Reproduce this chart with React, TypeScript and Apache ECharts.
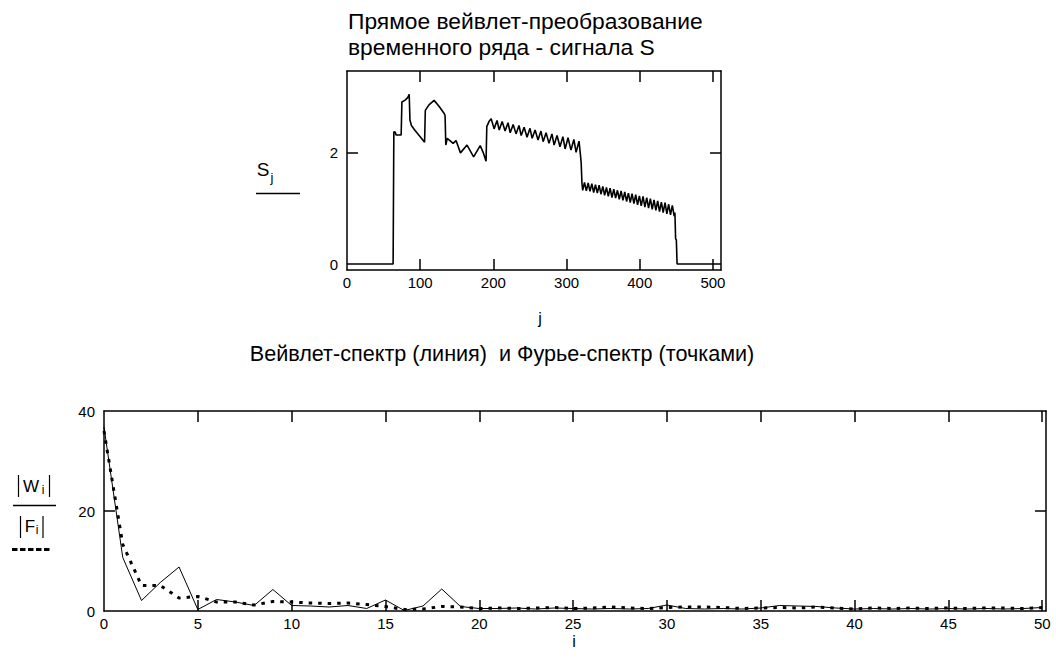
import React, { useEffect, useRef } from "react";
import * as echarts from "echarts";

// ---------- Top chart: signal S_j (vertex points) ----------
const signalRise: [number, number][] = [
  [0, 0], [63, 0], [64, 2.37], [66, 2.36], [67, 2.31], [74, 2.31], [75, 2.9], [79, 2.93],
  [83, 2.98], [85, 3.04], [86, 2.58], [88, 2.48], [93, 2.39], [100, 2.28], [106, 2.18],
  [107, 2.75], [112, 2.85], [119, 2.93], [126, 2.82], [133, 2.69], [134, 2.66], [135, 2.13],
  [137, 2.25], [145, 2.16], [149, 2.21], [155, 1.99], [164, 2.13], [173, 1.92], [182, 2.12],
  [186, 2.0], [190, 1.84], [191, 2.46], [194, 2.55],
];
const signalWaveA: [number, number][] = [
  [197, 2.6], [201, 2.42], [205, 2.57], [208, 2.4], [212, 2.55], [216, 2.38], [220, 2.53],
  [223, 2.35], [227, 2.5], [231, 2.33], [235, 2.48], [238, 2.3], [242, 2.45], [246, 2.27],
  [250, 2.43], [253, 2.25], [257, 2.4], [261, 2.22], [265, 2.38], [268, 2.19], [272, 2.35],
  [276, 2.16], [280, 2.33], [283, 2.13], [287, 2.3], [291, 2.1], [295, 2.28], [298, 2.06],
  [302, 2.26], [306, 2.04], [310, 2.23], [313, 2.0], [317, 2.2], [319, 1.95],
];
const signalWaveB: [number, number][] = [
  [320, 1.8], [321, 1.45], [322, 1.32], [324.5, 1.46], [327, 1.31], [329.5, 1.45], [332, 1.3],
  [334.5, 1.44], [337, 1.28], [339.5, 1.42], [342, 1.27], [344.5, 1.41], [347, 1.25],
  [349.5, 1.39], [352, 1.23], [354.5, 1.37], [357, 1.21], [359.5, 1.36], [362, 1.19],
  [364.5, 1.34], [367, 1.18], [369.5, 1.32], [372, 1.16], [374.5, 1.31], [377, 1.14],
  [379.5, 1.29], [382, 1.12], [384.5, 1.27], [387, 1.1], [389.5, 1.26], [392, 1.08],
  [394.5, 1.24], [397, 1.06], [399.5, 1.22], [402, 1.04], [404.5, 1.21], [407, 1.02],
  [409.5, 1.19], [412, 1.0], [414.5, 1.17], [417, 0.98], [419.5, 1.15], [422, 0.96],
  [424.5, 1.13], [427, 0.94], [429.5, 1.11], [432, 0.92], [434.5, 1.1], [437, 0.9],
  [439.5, 1.07], [442, 0.88], [444.5, 1.05], [447, 0.86],
];
const signalTail: [number, number][] = [
  [448, 0.92], [449, 0.45], [450, 0.43], [451, 0], [511, 0],
];

const topXTicks = [100, 200, 300, 400, 500];
const topXLabels = [0, 100, 200, 300, 400, 500];
const topYTicks = [2];
const topYLabels = [0, 2];

// ---------- Bottom chart: wavelet spectrum |W_i| and Fourier spectrum |F_i| ----------
const waveletW = [
  36.8, 10.7, 2.1, 5.7, 8.8, 0.3, 2.3, 1.8, 1.1, 4.3, 1.1, 1.0, 0.8, 1.1, 0.5, 2.2, 0.1, 1.0,
  4.4, 0.9, 0.5, 0.5, 0.6, 0.4, 0.6, 0.5, 0.4, 0.5, 0.4, 0.5, 1.2, 0.5, 0.4, 0.5, 0.4, 0.6,
  1.1, 1.0, 0.9, 0.6, 0.4, 0.5, 0.4, 0.5, 0.4, 0.5, 0.4, 0.5, 0.4, 0.5, 0.7,
];
const fourierF = [
  36, 13.3, 5.1, 5.1, 2.6, 2.9, 1.8, 1.8, 1.2, 1.9, 1.8, 1.6, 1.5, 1.6, 1.3, 0.9, 0.3, 0.4,
  0.9, 0.8, 0.5, 0.6, 0.5, 0.6, 0.7, 0.5, 0.6, 0.8, 0.6, 0.5, 0.7, 0.8, 0.8, 0.7, 0.5, 0.6,
  0.7, 0.6, 0.8, 0.6, 0.4, 0.6, 0.5, 0.6, 0.5, 0.6, 0.5, 0.6, 0.6, 0.5, 0.7,
];
const botXTicks = [5, 10, 15, 20, 25, 30, 35, 40, 45, 50];
const botXLabels = [0, 5, 10, 15, 20, 25, 30, 35, 40, 45, 50];
const botYTicks = [20];
const botYLabels = [0, 20, 40];

const FONT = "'Liberation Sans', Arial, sans-serif";
const lineStyle = { color: "#000", width: 1.5 };

function makeAxis(
  kind: "x" | "y",
  gridIndex: number,
  position: string,
  min: number,
  max: number,
  ticks: number[],
  labels: number[] | null
) {
  return {
    type: "value",
    gridIndex,
    position,
    min,
    max,
    axisLine: { show: true, onZero: false, lineStyle },
    axisTick: { show: true, inside: true, length: 11, customValues: ticks, lineStyle },
    axisLabel: labels
      ? {
          show: true,
          customValues: labels,
          margin: kind === "x" ? 5 : 9,
          color: "#000",
          fontSize: 15,
          fontFamily: FONT,
        }
      : { show: false },
    splitLine: { show: false },
  };
}

function txt(text: string, x: number, y: number, size: number, align = "center") {
  return {
    type: "text",
    x,
    y,
    style: {
      text,
      font: `${size}px ${FONT}`,
      fill: "#000",
      align,
      verticalAlign: "middle",
      textAlign: align,
      textVerticalAlign: "middle",
    },
  };
}

function seg(x1: number, y1: number, x2: number, y2: number, w = 1.5, dash?: number[]) {
  return {
    type: "line",
    shape: { x1, y1, x2, y2 },
    style: { stroke: "#000", lineWidth: w, lineDash: dash },
  };
}

export default function App() {
  const ref = useRef<HTMLDivElement>(null);

  useEffect(() => {
    if (!ref.current) return;
    const chart = echarts.init(ref.current, null, { renderer: "svg" });
    const signal = [...signalRise, ...signalWaveA, ...signalWaveB, ...signalTail];
    const wData = waveletW.map((v, i) => [i, v]);
    const fData = fourierF.map((v, i) => [i, v]);

    chart.setOption({
      animation: false,
      backgroundColor: "#fff",
      grid: [
        { left: 347, top: 71, width: 374, height: 199 },
        { left: 104, top: 411, width: 942, height: 200 },
      ],
      xAxis: [
        makeAxis("x", 0, "bottom", 0, 511, topXTicks, topXLabels),
        makeAxis("x", 0, "top", 0, 511, topXTicks, null),
        makeAxis("x", 1, "bottom", 0, 50.2, botXTicks, botXLabels),
        makeAxis("x", 1, "top", 0, 50.2, botXTicks, null),
      ],
      yAxis: [
        makeAxis("y", 0, "left", -0.107, 3.456, topYTicks, topYLabels),
        makeAxis("y", 0, "right", -0.107, 3.456, topYTicks, null),
        makeAxis("y", 1, "left", 0, 40, botYTicks, botYLabels),
        makeAxis("y", 1, "right", 0, 40, botYTicks, null),
      ],
      series: [
        {
          type: "line",
          xAxisIndex: 0,
          yAxisIndex: 0,
          data: signal,
          symbol: "none",
          lineStyle: { color: "#000", width: 1.6 },
        },
        {
          type: "line",
          xAxisIndex: 2,
          yAxisIndex: 2,
          data: wData,
          symbol: "none",
          lineStyle: { color: "#000", width: 1 },
        },
        {
          type: "line",
          xAxisIndex: 2,
          yAxisIndex: 2,
          data: fData,
          symbol: "none",
          lineStyle: { color: "#000", width: 3, type: [3.5, 6], cap: "butt" },
        },
      ],
      graphic: [
        txt("Прямое вейвлет-преобразование", 348, 21, 22.8, "left"),
        txt("временного ряда - сигнала S", 348, 47, 22.8, "left"),
        txt("j", 540, 318, 16),
        txt("S", 263, 169, 19),
        txt("j", 272, 177, 13),
        seg(256, 193.5, 300, 193.5),
        txt("Вейвлет-спектр (линия)  и Фурье-спектр (точками)", 502, 353, 21.6),
        txt("i", 574, 641, 16),
        seg(18.5, 475, 18.5, 497, 1.2),
        seg(49.5, 475, 49.5, 497, 1.2),
        txt("W", 31, 486, 17),
        txt("i", 43, 490, 12),
        seg(13, 505.5, 56, 505.5),
        seg(20.5, 516, 20.5, 538, 1.2),
        seg(43, 516, 43, 538, 1.2),
        txt("F", 30, 526, 17),
        txt("i", 37, 530, 12),
        seg(12, 549.5, 51, 549.5, 3, [5.5, 2.5]),
      ],
    });
    return () => chart.dispose();
  }, []);

  return (
    <div
      ref={ref}
      style={{ position: "absolute", left: 0, top: 0, width: 1056, height: 661, background: "#fff" }}
    />
  );
}
